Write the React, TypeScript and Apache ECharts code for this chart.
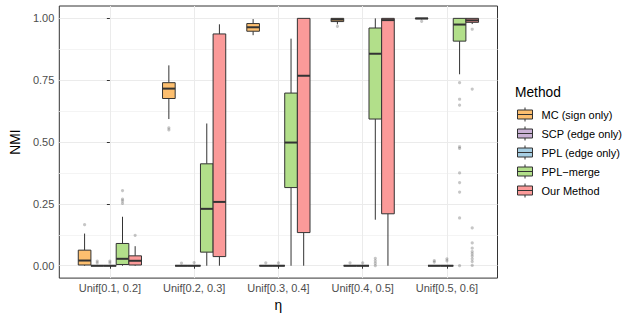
import React, { useEffect, useRef } from 'react';
import * as echarts from 'echarts';

const FONT = '"Liberation Sans", Arial, Helvetica, sans-serif';

const categories = ['Unif[0.1, 0.2]', 'Unif[0.2, 0.3]', 'Unif[0.3, 0.4]', 'Unif[0.4, 0.5]', 'Unif[0.5, 0.6]'];
const methods = ['MC (sign only)', 'SCP (edge only)', 'PPL (edge only)', 'PPL\u2212merge', 'Our Method'];
const methodColors = ['#FDBF6F', '#CAB2D6', '#A6CEE3', '#B2DF8A', '#FB9A99'];
const yTicks = [0, 0.25, 0.5, 0.75, 1];
const yMinorTicks = [0.125, 0.375, 0.625, 0.875];

// [lower whisker, Q1, median, Q3, upper whisker] for each category
const mcBoxes = [
  [0, 0.003, 0.021, 0.063, 0.13],
  [0.593, 0.676, 0.716, 0.74, 0.81],
  [0.932, 0.948, 0.964, 0.979, 0.997],
  [0.976, 0.987, 0.995, 1.0, 1.0],
  [0.996, 0.998, 1.0, 1.0, 1.0],
];
const scpBoxes = [
  [0, 0, 0, 0, 0],
  [0, 0, 0, 0, 0],
  [0, 0, 0, 0, 0],
  [0, 0, 0, 0, 0],
  [0, 0, 0, 0, 0],
];
const pplBoxes = [
  [0, 0, 0, 0, 0],
  [0, 0, 0, 0, 0],
  [0, 0, 0, 0, 0],
  [0, 0, 0, 0, 0],
  [0, 0, 0, 0, 0],
];
const mergeBoxes = [
  [0, 0.005, 0.028, 0.09, 0.198],
  [0, 0.055, 0.23, 0.412, 0.575],
  [0, 0.316, 0.498, 0.698, 0.918],
  [0.186, 0.593, 0.857, 0.961, 1.0],
  [0.774, 0.908, 0.975, 1.0, 1.0],
];
const oursBoxes = [
  [0, 0.003, 0.02, 0.04, 0.079],
  [0, 0.037, 0.258, 0.937, 0.976],
  [0, 0.134, 0.768, 1.0, 1.0],
  [0, 0.21, 0.993, 1.0, 1.0],
  [0.977, 0.984, 0.992, 1.0, 1.0],
];

// outliers for each category
const mcOutliers = [[0.166], [0.557, 0.549], [], [0.968], [0.988]];
const scpOutliers = [[0.012, 0.019], [0.011], [0.012], [0.012], [0.015, 0.021]];
const pplOutliers = [[0.012, 0.019], [0.013], [0.012], [0.012], [0.02, 0.028]];
const mergeOutliers = [
  [0.304, 0.269, 0.262, 0.252],
  [],
  [],
  [0.0, 0.01, 0.02, 0.03],
  [0.74, 0.673, 0.649, 0.481, 0.474, 0.375, 0.336, 0.298, 0.193, 0.0],
];
const oursOutliers = [
  [0.123],
  [],
  [],
  [],
  [0.956, 0.714, 0.153, 0.092, 0.071, 0.057, 0.048, 0.039, 0.028, 0.017, 0.001],
];

const allBoxes = [mcBoxes, scpBoxes, pplBoxes, mergeBoxes, oursBoxes];
const allOutliers = [mcOutliers, scpOutliers, pplOutliers, mergeOutliers, oursOutliers];

const LEGEND_ICON = 'path://M0,4 H15 V13 H0 Z M0,8.5 H15 M7.5,1.5 V4 M7.5,13 V15.5';

const DODGE = 0.75;
const EDGE = '#333333';

function boxRenderer(slot: number, color: string) {
  return (params: any, api: any) => {
    const c = api.value(0);
    const unit = api.size([1, 0])[0];
    const w = (unit * DODGE) / methods.length;
    const cx = api.coord([c, 0])[0] + (slot - (methods.length - 1) / 2) * w;
    const py = (i: number) => api.coord([c, api.value(i)])[1];
    const lo = py(1);
    const q1 = py(2);
    const med = py(3);
    const q3 = py(4);
    const hi = py(5);
    const ls = { stroke: EDGE, lineWidth: 1 };
    return {
      type: 'group',
      children: [
        { type: 'line', shape: { x1: cx, y1: hi, x2: cx, y2: q3 }, style: ls },
        { type: 'line', shape: { x1: cx, y1: q1, x2: cx, y2: lo }, style: ls },
        {
          type: 'rect',
          shape: { x: cx - w / 2, y: q3, width: w, height: Math.max(q1 - q3, 0) },
          style: { fill: color, stroke: EDGE, lineWidth: 1 },
        },
        { type: 'line', shape: { x1: cx - w / 2, y1: med, x2: cx + w / 2, y2: med }, style: { stroke: EDGE, lineWidth: 2 } },
      ],
    };
  };
}

function outlierRenderer(params: any, api: any) {
  const c = api.value(0);
  const slot = api.value(1);
  const unit = api.size([1, 0])[0];
  const w = (unit * DODGE) / methods.length;
  const p = api.coord([c, api.value(2)]);
  return {
    type: 'circle',
    shape: { cx: p[0] + (slot - (methods.length - 1) / 2) * w, cy: p[1], r: 1.6 },
    style: { fill: 'rgba(51,51,51,0.28)' },
  };
}

export default function App() {
  const ref = useRef<HTMLDivElement>(null);

  useEffect(() => {
    if (!ref.current) return;
    const chart = echarts.init(ref.current, null, { renderer: 'svg' });

    const boxSeries = methods.map((name, m) => ({
      name,
      type: 'custom',
      itemStyle: { color: methodColors[m] },
      encode: { x: 0, y: [1, 2, 3, 4, 5] },
      renderItem: boxRenderer(m, methodColors[m]),
      data: allBoxes[m].map((b, c) => [c, ...b]),
      z: 3,
    }));

    const outlierData: number[][] = [];
    allOutliers.forEach((byCat, m) => {
      byCat.forEach((vals, c) => {
        vals.forEach((v) => outlierData.push([c, m, v]));
      });
    });

    const option: any = {
      animation: false,
      backgroundColor: '#ffffff',
      textStyle: { fontFamily: FONT },
      title: {
        text: 'Method',
        left: 515,
        top: 85,
        padding: 0,
        textStyle: { fontSize: 13.75, fontWeight: 'normal', color: '#000000', fontFamily: FONT },
      },
      legend: {
        data: methods,
        orient: 'vertical',
        left: 517,
        top: 107,
        padding: 0,
        itemGap: 4,
        itemWidth: 15,
        itemHeight: 14,
        icon: LEGEND_ICON,
        itemStyle: { borderColor: EDGE, borderWidth: 1 },
        textStyle: { fontSize: 11, color: '#000000', fontFamily: FONT, padding: [0, 0, 0, 4] },
        selectedMode: false,
      },
      grid: {
        left: 48,
        top: 6,
        width: 449.5,
        height: 273,
        show: true,
        borderColor: EDGE,
        borderWidth: 1,
        backgroundColor: 'transparent',
      },
      xAxis: {
        type: 'value',
        min: -0.6,
        max: categories.length - 1 + 0.6,
        name: '\u03b7',
        nameLocation: 'middle',
        nameGap: 14,
        nameTextStyle: { fontSize: 13.75, color: '#000000', fontFamily: FONT },
        axisLine: { show: false },
        axisTick: {
          show: true,
          length: 3,
          lineStyle: { color: EDGE, width: 1 },
          customValues: categories.map((_, i) => i),
        },
        axisLabel: {
          customValues: categories.map((_, i) => i),
          formatter: (v: number) => categories[Math.round(v)] ?? '',
          color: '#4D4D4D',
          fontSize: 11,
          margin: 4,
          fontFamily: FONT,
        },
        splitLine: { show: true, lineStyle: { color: '#EBEBEB', width: 1 } },
        minorSplitLine: { show: false },
      },
      yAxis: [
        {
          type: 'value',
          min: -0.05,
          max: 1.05,
          name: 'NMI',
          nameLocation: 'middle',
          nameGap: 29,
          nameTextStyle: { fontSize: 13.75, color: '#000000', fontFamily: FONT },
          axisLine: { show: false },
          axisTick: {
            show: true,
            length: 3,
            lineStyle: { color: EDGE, width: 1 },
            customValues: yTicks,
          },
          axisLabel: {
            customValues: yTicks,
            formatter: (v: number) => v.toFixed(2),
            color: '#4D4D4D',
            fontSize: 11,
            margin: 5,
            fontFamily: FONT,
          },
          splitLine: { show: true, lineStyle: { color: '#EBEBEB', width: 1 } },
        },
        {
          type: 'value',
          min: -0.05,
          max: 1.05,
          position: 'left',
          axisLine: { show: false },
          axisTick: { show: false, customValues: yMinorTicks },
          axisLabel: { show: false, customValues: yMinorTicks },
          splitLine: { show: true, lineStyle: { color: '#F4F4F4', width: 1 } },
        },
      ],
      series: [
        ...boxSeries,
        {
          name: 'outliers',
          type: 'custom',
          encode: { x: 0, y: 2 },
          renderItem: outlierRenderer,
          data: outlierData,
          z: 4,
        },
      ],
    };

    chart.setOption(option);
    return () => chart.dispose();
  }, []);

  return (
    <div
      ref={ref}
      style={{ position: 'fixed', left: 0, top: 0, width: 634, height: 317, background: '#ffffff' }}
    />
  );
}
